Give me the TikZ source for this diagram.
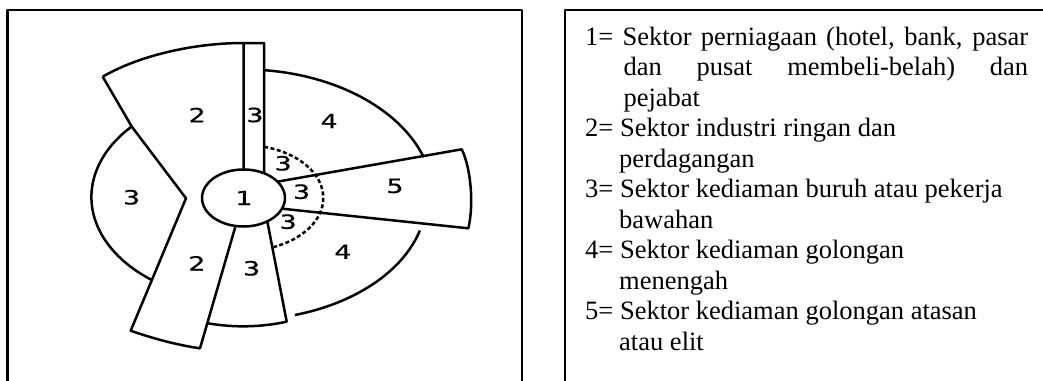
\documentclass[tikz,border=0pt]{standalone}
\usepackage{fontspec}
\setmainfont{Liberation Serif}
\newfontfamily\digitfont[FakeStretch=1.45,FakeBold=0.6]{DejaVu Sans Mono}
\usetikzlibrary{shapes.geometric,calc}
\begin{document}
\begin{tikzpicture}[x=1pt,y=1pt,line join=round,
  ln/.style={line width=2.5pt,draw=black},
  frm/.style={line width=2.2pt,draw=black},
  dsh/.style={line width=2.5pt,draw=black,dash pattern=on 4pt off 2.5pt},
  dig/.style={inner sep=0pt,font=\digitfont\fontsize{19.5}{21}\selectfont},
  txt/.style={anchor=base west,inner sep=0pt,font=\fontsize{26.5}{30.5}\selectfont}]
\useasboundingbox (0,0) rectangle (1043,-380);
\clip (0,0) rectangle (1043,-380);
% frames
\draw[frm] (7.5,-395) -- (7.5,-10) -- (521.7,-10) -- (521.7,-395);
\draw[frm] (565,-395) -- (565,-10) -- (1060,-10);
% centre
\node[ellipse,ln,minimum width=83pt,minimum height=57pt,inner sep=0pt,outer sep=0pt,dig] (c) at (243.5,-198) {1};
% key points
\coordinate (st1) at ($(c.center)+(90:41.5pt and 28.5pt)$);
\coordinate (st2) at (243.5,-43);
\coordinate (st3) at (264,-43);
\coordinate (st4) at ($(c.center)+(60:41.5pt and 28.5pt)$);
\coordinate (A) at (102.7,-76.7);
\coordinate (J) at (131.7,-126.5);
\coordinate (V) at (186,-198.3);
\coordinate (B) at (130.7,-330.7);
\coordinate (D) at (200,-348.3);
\coordinate (c2b) at ($(c.center)+(-101:41.5pt and 28.5pt)$);
\coordinate (E) at (208,-323.3);
\coordinate (F) at (286.7,-321.7);
\coordinate (c3r) at ($(c.center)+(-55:41.5pt and 28.5pt)$);
\coordinate (c5t) at ($(c.center)+(35:41.5pt and 28.5pt)$);
\coordinate (G) at (461.7,-149.3);
\coordinate (H) at (468.3,-228.3);
\coordinate (c5b) at ($(c.center)+(-22:41.5pt and 28.5pt)$);
\coordinate (u4) at ($(c.center)+(83.8:190pt and 128.6pt)$);
\coordinate (l4) at ($(c.center)+(-15.5:183pt and 121.9pt)$);
\coordinate (d3) at ($(c.center)+(75:79.8pt and 53pt)$);
% strip (3)
\draw[ln] (st1) -- (st2) -- (st3) -- (st4);
% sector 2 outline
\draw[ln] (A) .. controls (140,-55) and (195,-43) .. (st2);
\draw[ln] (A) -- (J) -- (V) -- (B) .. controls (153,-338.5) and (177,-345) .. (D) -- (c2b);
% left 3 arc
\draw[ln] (J) arc[start angle=137.3,end angle=232.6,x radius=152pt,y radius=104pt];
% lower 3 bar
\draw[ln] (E) .. controls (235,-328) and (262,-327) .. (F) -- (c3r);
% 5 bar
\draw[ln] (c5t) -- (G) .. controls (471,-168) and (474,-205) .. (H) -- (c5b);
% 4 arcs
\draw[ln] (u4) arc[start angle=83.8,end angle=18.5,x radius=190pt,y radius=128.6pt];
\draw[ln] (l4) arc[start angle=-15.5,end angle=-73.7,x radius=183pt,y radius=121.9pt];
% dashed arc
\draw[dsh] (d3) arc[start angle=75,end angle=-68,x radius=79.8pt,y radius=53pt];
% labels
\node[dig] (n2a) at (197,-115) {2};
\node[dig] (n3s) at (255,-115) {3};
\node[dig] (n4a) at (329,-121) {4};
\node[dig] (n3l) at (131.7,-197.3) {3};
\node[dig] (n3d1) at (283.3,-163.3) {3};
\node[dig] (n3d2) at (301.7,-191.7) {3};
\node[dig] (n3d3) at (288.3,-221.7) {3};
\node[dig] (n5) at (395,-186) {5};
\node[dig] (n4b) at (342.7,-251.7) {4};
\node[dig] (n2b) at (196.7,-263.3) {2};
\node[dig] (n3b) at (251.7,-268.3) {3};
% legend
\node[txt] (t1) at (585,-45) {\makebox[443pt][s]{1= Sektor perniagaan (hotel, bank, pasar}};
\node[txt] (t2) at (623.3,-75.5) {\makebox[404.7pt][s]{dan pusat membeli-belah) dan}};
\node[txt] (t3) at (623.3,-106) {pejabat};
\node[txt] (t4) at (585,-136.5) {2= Sektor industri ringan dan};
\node[txt] (t5) at (619,-167) {perdagangan};
\node[txt] (t6) at (585,-197.5) {3= Sektor kediaman buruh atau pekerja};
\node[txt] (t7) at (619,-228) {bawahan};
\node[txt] (t8) at (585,-258.5) {4= Sektor kediaman golongan};
\node[txt] (t9) at (619,-289) {menengah};
\node[txt] (t10) at (585,-319.5) {5= Sektor kediaman golongan atasan};
\node[txt] (t11) at (619,-350) {atau elit};
\end{tikzpicture}
\end{document}
